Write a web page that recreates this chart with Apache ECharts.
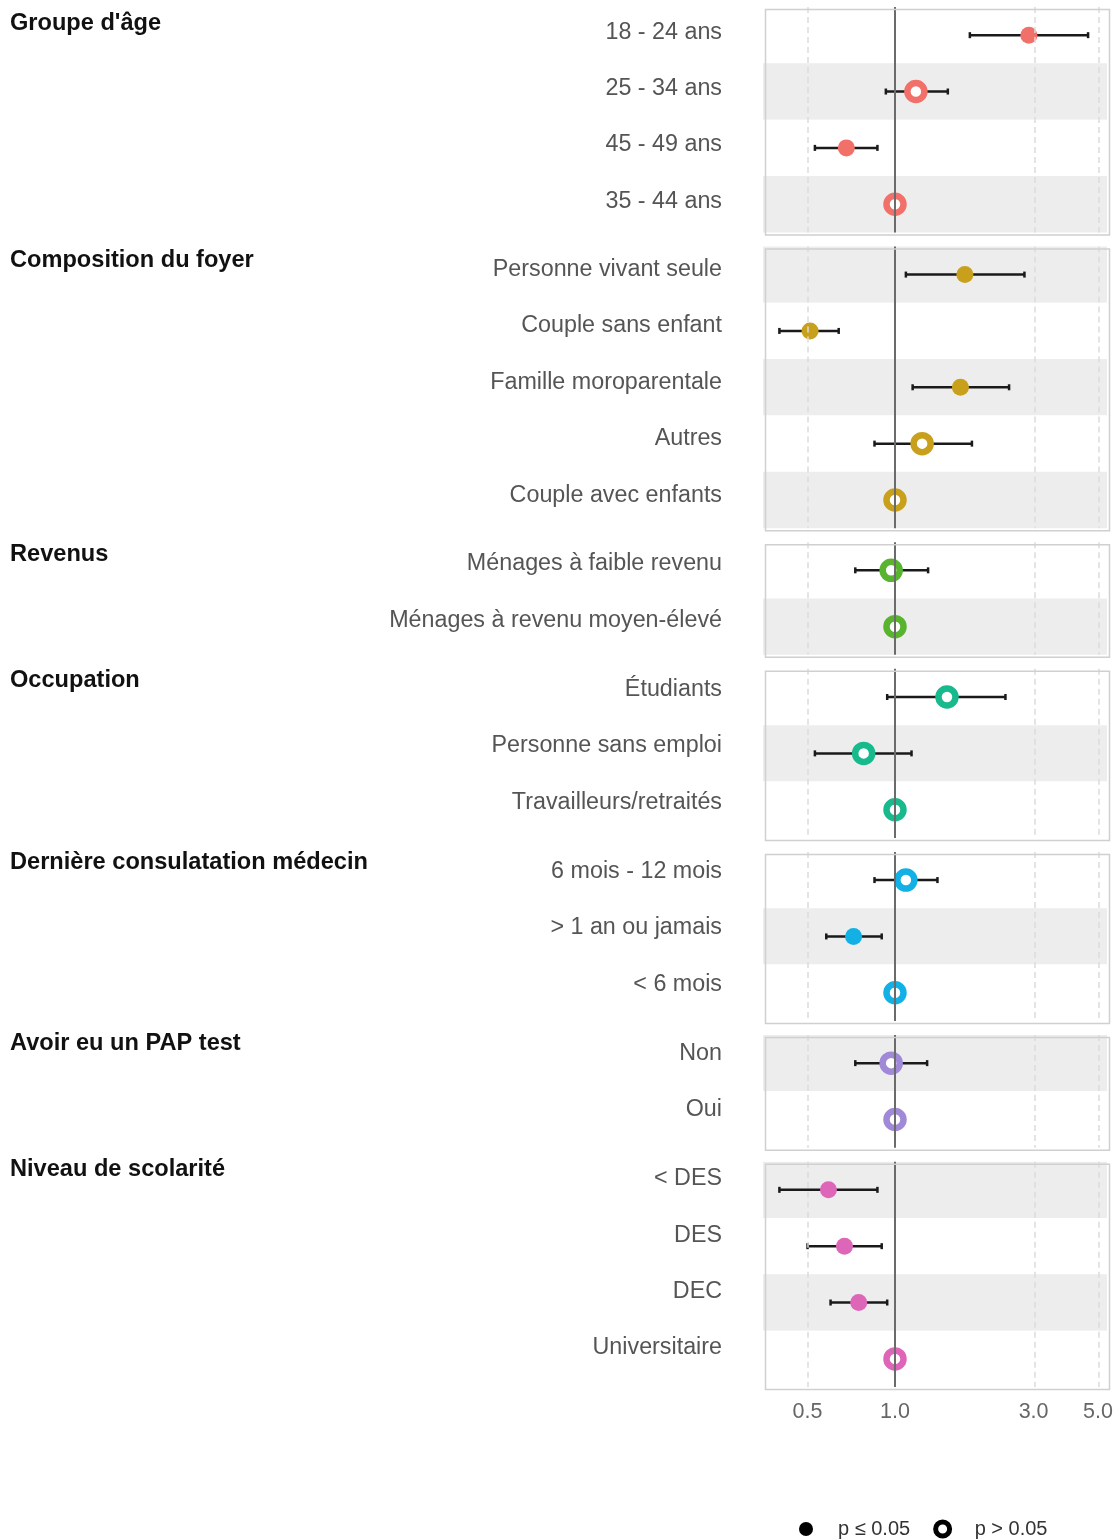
<!DOCTYPE html>
<html>
<head>
<meta charset="utf-8">
<script src="https://cdn.jsdelivr.net/npm/echarts@6/dist/echarts.min.js"></script>
<style>
  html, body { margin: 0; padding: 0; background: #ffffff; }
  #chart { width: 1120px; height: 1540px; }
</style>
</head>
<body>
<div id="chart"></div>
<script>
// Odds ratios with 95% confidence intervals, by covariate group.
// The reference category of each group has OR = 1 and no interval.

const ageLabels = ['18 - 24 ans', '25 - 34 ans', '45 - 49 ans', '35 - 44 ans'];
const ageOR     = [2.89, 1.18, 0.68, 1.00];
const ageLow    = [1.81, 0.93, 0.53, null];
const ageHigh   = [4.62, 1.52, 0.87, null];
const ageSignif = [true, false, true, false];

const foyerLabels = ['Personne vivant seule', 'Couple sans enfant', 'Famille moroparentale', 'Autres', 'Couple avec enfants'];
const foyerOR     = [1.74, 0.51, 1.68, 1.24, 1.00];
const foyerLow    = [1.09, 0.40, 1.15, 0.85, null];
const foyerHigh   = [2.79, 0.64, 2.47, 1.84, null];
const foyerSignif = [true, true, true, false, false];

const revenuLabels = ['Ménages à faible revenu', 'Ménages à revenu moyen-élevé'];
const revenuOR     = [0.97, 1.00];
const revenuLow    = [0.73, null];
const revenuHigh   = [1.30, null];
const revenuSignif = [false, false];

const occupLabels = ['Étudiants', 'Personne sans emploi', 'Travailleurs/retraités'];
const occupOR     = [1.51, 0.78, 1.00];
const occupLow    = [0.94, 0.53, null];
const occupHigh   = [2.40, 1.14, null];
const occupSignif = [false, false, false];

const consultLabels = ['6 mois - 12 mois', '> 1 an ou jamais', '< 6 mois'];
const consultOR     = [1.09, 0.72, 1.00];
const consultLow    = [0.85, 0.58, null];
const consultHigh   = [1.40, 0.90, null];
const consultSignif = [false, true, false];

const papLabels = ['Non', 'Oui'];
const papOR     = [0.97, 1.00];
const papLow    = [0.73, null];
const papHigh   = [1.29, null];
const papSignif = [false, false];

const scolLabels = ['< DES', 'DES', 'DEC', 'Universitaire'];
const scolOR     = [0.59, 0.67, 0.75, 1.00];
const scolLow    = [0.40, 0.50, 0.60, null];
const scolHigh   = [0.87, 0.90, 0.94, null];
const scolSignif = [true, true, true, false];

const groupTitles = ["Groupe d'âge", 'Composition du foyer', 'Revenus', 'Occupation',
                     'Dernière consulatation médecin', 'Avoir eu un PAP test', 'Niveau de scolarité'];

const xTickValues    = [0.5, 1.0, 3.0, 5.0];
const gridLineValues = [0.5, 3.0, 5.0];
const referenceOR    = 1.0;

const groups = [
  { labels: ageLabels,     or: ageOR,     low: ageLow,     high: ageHigh,     sig: ageSignif },
  { labels: foyerLabels,   or: foyerOR,   low: foyerLow,   high: foyerHigh,   sig: foyerSignif },
  { labels: revenuLabels,  or: revenuOR,  low: revenuLow,  high: revenuHigh,  sig: revenuSignif },
  { labels: occupLabels,   or: occupOR,   low: occupLow,   high: occupHigh,   sig: occupSignif },
  { labels: consultLabels, or: consultOR, low: consultLow, high: consultHigh, sig: consultSignif },
  { labels: papLabels,     or: papOR,     low: papLow,     high: papHigh,     sig: papSignif },
  { labels: scolLabels,    or: scolOR,    low: scolLow,    high: scolHigh,    sig: scolSignif }
];

// Styling
const groupColors  = ['#F2706A', '#C8A01C', '#58B42E', '#18B98C', '#12B0E4', '#A08AD8', '#DD66B8'];
const topRowShaded = [false, true, false, false, false, true, true];
const SHADE = '#EDEDEE';
const FONT = "'Liberation Sans', Arial, Helvetica, sans-serif";

// Layout of the stacked panels
const ROW_H = 56.35, GAP = 14, TOP0 = 7, LEFT = 763, RIGHT = 13;
const X_MIN_LOG = -0.4544, X_MAX_LOG = 0.7298;   // log10 of the x range shown

const grid = [], xAxis = [], yAxis = [], series = [], graphic = [];
let panelTop = TOP0;

groups.forEach((g, i) => {
  const n = g.labels.length;
  const h = n * ROW_H;
  const isLast = i === groups.length - 1;
  const color = groupColors[i];
  // category labels sit slightly above their row centre
  const labelShift = 2.5 + 0.0068 * (panelTop + h / 2 - 35);

  grid.push({ left: LEFT, right: RIGHT, top: panelTop, height: h, show: false });

  xAxis.push({
    gridIndex: i, type: 'value', min: X_MIN_LOG, max: X_MAX_LOG,
    axisLine: { show: false }, axisTick: { show: false }, splitLine: { show: false },
    axisLabel: isLast ? {
      show: true,
      customValues: xTickValues.map(v => Math.log10(v)),
      formatter: v => Math.pow(10, v).toFixed(1),
      color: '#666666', fontSize: 21.5, fontFamily: FONT, margin: 14
    } : { show: false }
  });

  yAxis.push({
    gridIndex: i, type: 'category', data: g.labels, inverse: true,
    axisLine: { show: false }, axisTick: { show: false }, splitLine: { show: false },
    splitArea: {
      show: true, interval: 0,
      areaStyle: { color: topRowShaded[i] ? [SHADE, '#FFFFFF'] : ['#FFFFFF', SHADE] }
    },
    axisLabel: {
      interval: 0, color: '#555555', fontSize: 23.3, fontFamily: FONT, margin: 41,
      verticalAlign: 'bottom', lineHeight: 2 * labelShift
    }
  });

  // vertical grid lines and the OR = 1 reference line
  series.push({
    type: 'line', xAxisIndex: i, yAxisIndex: i, data: [], z: 1, silent: true,
    markLine: {
      silent: true, symbol: ['none', 'none'], label: { show: false }, animation: false,
      data: gridLineValues.map(v => ({
        xAxis: Math.log10(v),
        lineStyle: { color: '#DCDCDC', width: 1.5, type: [6, 4] }
      })).concat([{
        xAxis: Math.log10(referenceOR),
        lineStyle: { color: '#6B6B6B', width: 2, type: 'solid' }
      }])
    }
  });

  // confidence intervals
  const ciData = [];
  g.labels.forEach((lab, k) => {
    if (g.low[k] != null && g.high[k] != null) {
      ciData.push([Math.log10(g.low[k]), Math.log10(g.high[k]), k]);
    }
  });
  series.push({
    type: 'custom', xAxisIndex: i, yAxisIndex: i, z: 2, silent: true,
    data: ciData, encode: { x: [0, 1], y: 2 },
    renderItem: (params, api) => {
      const a = api.coord([api.value(0), api.value(2)]);
      const b = api.coord([api.value(1), api.value(2)]);
      const cap = 3;
      const ink = '#1A1A1A';
      return {
        type: 'group',
        children: [
          { type: 'line', shape: { x1: a[0], y1: a[1], x2: b[0], y2: b[1] }, style: { stroke: ink, lineWidth: 2.5 } },
          { type: 'line', shape: { x1: a[0], y1: a[1] - cap, x2: a[0], y2: a[1] + cap }, style: { stroke: ink, lineWidth: 2.5 } },
          { type: 'line', shape: { x1: b[0], y1: b[1] - cap, x2: b[0], y2: b[1] + cap }, style: { stroke: ink, lineWidth: 2.5 } }
        ]
      };
    }
  });

  // point estimates: filled when p <= 0.05, hollow otherwise
  const sigPts = [], nsPts = [];
  g.labels.forEach((lab, k) => {
    (g.sig[k] ? sigPts : nsPts).push([Math.log10(g.or[k]), k]);
  });
  series.push({
    name: 'p ≤ 0.05', type: 'scatter', xAxisIndex: i, yAxisIndex: i, z: 3, silent: true,
    symbol: 'circle', symbolSize: 17, data: sigPts,
    itemStyle: { color: color, opacity: 1 }
  });
  series.push({
    name: 'p > 0.05', type: 'scatter', xAxisIndex: i, yAxisIndex: i, z: 3, silent: true,
    symbol: 'circle', symbolSize: 17, data: nsPts,
    itemStyle: { color: '#FFFFFF', borderColor: color, borderWidth: 6.5, opacity: 1 }
  });

  // group heading
  const titleCenter = 22.5 + 0.9932 * (panelTop - TOP0);
  graphic.push({
    type: 'text', left: 10, top: titleCenter - 11.5, silent: true,
    style: { text: groupTitles[i], font: 'bold 23.6px ' + FONT, fill: '#111111' }
  });

  // panel border
  graphic.push({
    type: 'rect', left: LEFT, top: panelTop, silent: true, z: 100,
    shape: { width: 1120 - LEFT - RIGHT, height: h },
    style: { fill: 'none', stroke: '#D0D0D0', lineWidth: 1.5 }
  });

  panelTop += h + GAP;
});

const chart = echarts.init(document.getElementById('chart'), null, { renderer: 'canvas' });
chart.setOption({
  animation: false,
  backgroundColor: '#FFFFFF',
  grid: grid,
  xAxis: xAxis,
  yAxis: yAxis,
  series: series,
  graphic: graphic,
  legend: {
    left: 799, top: 1519, orient: 'horizontal', padding: 0,
    itemWidth: 14, itemHeight: 14, itemGap: 23, selectedMode: false,
    textStyle: { fontSize: 20, color: '#333333', fontFamily: FONT, padding: [0, 0, 0, 20] },
    data: [
      { name: 'p ≤ 0.05', icon: 'circle', itemStyle: { color: '#000000', borderWidth: 0 } },
      { name: 'p > 0.05', icon: 'circle', itemStyle: { color: '#FFFFFF', borderColor: '#000000', borderWidth: 5 } }
    ]
  }
});
</script>
</body>
</html>
